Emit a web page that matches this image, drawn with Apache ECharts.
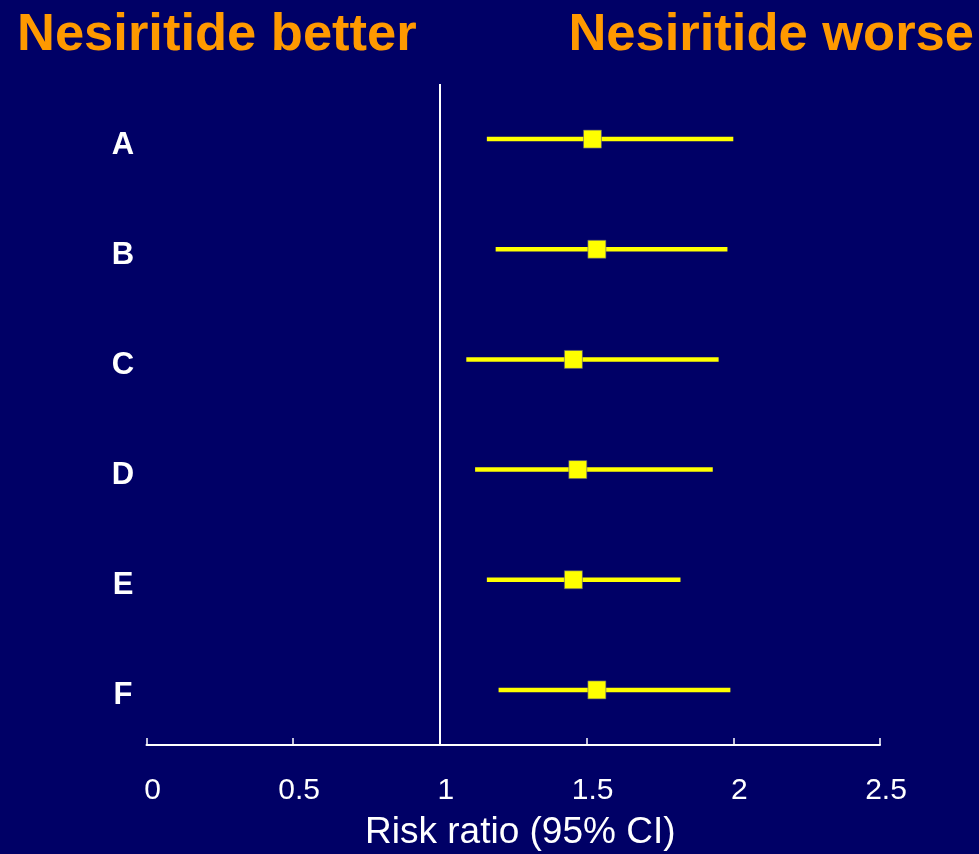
<!DOCTYPE html>
<html>
<head>
<meta charset="utf-8">
<script src="https://cdn.jsdelivr.net/npm/echarts@6/dist/echarts.min.js"></script>
<style>
  html, body { margin: 0; padding: 0; background: #000066; }
  #chart { width: 979px; height: 854px; }
</style>
</head>
<body>
<div id="chart"></div>
<script>
// Study labels and risk ratios with 95% confidence intervals
var studies = ['A', 'B', 'C', 'D', 'E', 'F'];
var riskRatio = [1.52, 1.535, 1.455, 1.47, 1.455, 1.535];
var ciLow = [1.16, 1.19, 1.09, 1.12, 1.16, 1.20];
var ciHigh = [2.0, 1.98, 1.95, 1.93, 1.82, 1.99];
var xTicks = [0, 0.5, 1, 1.5, 2, 2.5];

var FONT = '"Liberation Sans", Arial, sans-serif';

var chart = echarts.init(document.getElementById('chart'));

var ciData = studies.map(function (s, i) { return [ciLow[i], ciHigh[i], i]; });
var pointData = studies.map(function (s, i) { return [riskRatio[i], i]; });

chart.setOption({
  backgroundColor: '#000066',
  animation: false,
  title: [
    {
      text: 'Nesiritide better', left: 12, top: 4,
      textStyle: { color: '#FF9900', fontSize: 52.5, fontWeight: 'bold', fontFamily: FONT }
    },
    {
      text: 'Nesiritide worse', right: 0, top: 4,
      textStyle: { color: '#FF9900', fontSize: 52.5, fontWeight: 'bold', fontFamily: FONT }
    }
  ],
  grid: {
    left: 146.5, right: 99, top: 84, bottom: 109,
    containLabel: false, outerBoundsMode: 'none'
  },
  xAxis: {
    type: 'value', min: 0, max: 2.5, interval: 0.5,
    name: 'Risk ratio (95% CI)', nameLocation: 'middle', nameGap: 69,
    nameTextStyle: { color: '#FFFFFF', fontSize: 37, fontFamily: FONT, padding: [0, 0, 0, 14] },
    axisLine: { show: true, lineStyle: { color: '#FFFFFF', width: 2 } },
    axisTick: { show: true, inside: true, length: 7, lineStyle: { color: '#FFFFFF', width: 1.5 } },
    axisLabel: {
      color: '#FFFFFF', fontSize: 30, fontFamily: FONT, margin: 31,
      padding: [0, 0, 0, 12],
      formatter: function (v) { return xTicks.indexOf(v) >= 0 ? String(v) : ''; }
    },
    splitLine: { show: false }
  },
  yAxis: {
    type: 'category', data: studies, inverse: true,
    axisLine: { show: false }, axisTick: { show: false },
    axisLabel: {
      color: '#FFFFFF', fontSize: 31, fontWeight: 'bold', fontFamily: FONT,
      align: 'center', verticalAlign: 'top', lineHeight: 12, margin: 23.5
    },
    splitLine: { show: false }
  },
  series: [
    {
      type: 'custom',
      data: ciData,
      encode: { x: [0, 1], y: 2 },
      renderItem: function (params, api) {
        var p0 = api.coord([api.value(0), api.value(2)]);
        var p1 = api.coord([api.value(1), api.value(2)]);
        return {
          type: 'line',
          shape: { x1: p0[0], y1: p0[1], x2: p1[0], y2: p1[1] },
          style: { stroke: '#FFFF00', lineWidth: 4.5 }
        };
      },
      z: 2
    },
    {
      type: 'scatter',
      data: pointData,
      symbol: 'rect',
      symbolSize: 18,
      itemStyle: { color: '#FFFF00', borderColor: '#55557a', borderWidth: 0.6, opacity: 1 },
      z: 3,
      markLine: {
        silent: true, symbol: 'none', label: { show: false },
        lineStyle: { color: '#FFFFFF', width: 2, type: 'solid' },
        data: [{ xAxis: 1 }]
      }
    }
  ]
});
</script>
</body>
</html>
